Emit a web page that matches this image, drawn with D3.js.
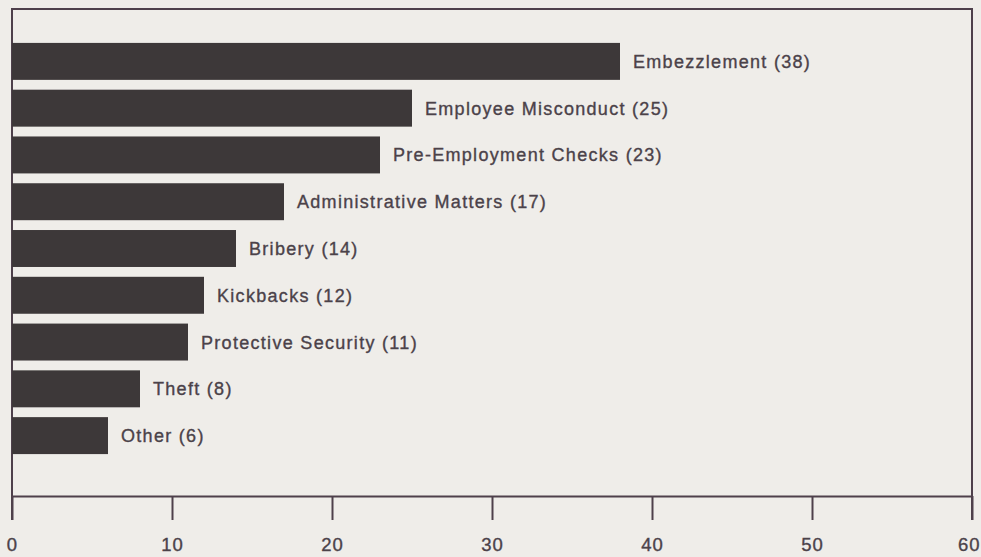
<!DOCTYPE html>
<html>
<head>
<meta charset="utf-8">
<script src="https://cdn.jsdelivr.net/npm/d3@7"></script>
<style>
  html, body { margin: 0; padding: 0; background: #efede9; }
  svg { display: block; }
  .axis text { font-family: "Liberation Sans", Arial, Helvetica, sans-serif; font-size: 18.5px; fill: #4b4249; stroke: #4b4249; stroke-width: 0.35px; letter-spacing: 1px; }
  .lbl { font-family: "Liberation Sans", Arial, Helvetica, sans-serif; font-size: 18px; fill: #4b4249; stroke: #4b4249; stroke-width: 0.35px; letter-spacing: 1.3px; }
</style>
</head>
<body>
<svg id="chart" width="981" height="557"></svg>
<script>
const categories = ['Embezzlement', 'Employee Misconduct', 'Pre-Employment Checks', 'Administrative Matters',
  'Bribery', 'Kickbacks', 'Protective Security', 'Theft', 'Other'];
const counts = [38, 25, 23, 17, 14, 12, 11, 8, 6];
const tickValues = [0, 10, 20, 30, 40, 50, 60];

const data = categories.map((c, i) => ({ name: c, value: counts[i] }));

let svg = d3.select('#chart');
let margin = { top: 9, right: 9, bottom: 61, left: 12 };
let width = 981, height = 557;
let lineColor = '#4e404b';

let x = d3.scaleLinear()
  .domain([0, 60])
  .range([margin.left, width - margin.right]);

let y = d3.scaleBand()
  .domain(categories)
  .range([38, 459])
  .paddingInner(0.21)
  .paddingOuter(0.105);

let axisY = height - margin.bottom; // 496

// frame: top line and both sides, running down to the end of the outer ticks
svg.append('path')
  .attr('d', `M${x(0)},${axisY + 24} V${margin.top} H${x(60)} V${axisY + 24}`)
  .attr('fill', 'none')
  .attr('stroke', lineColor)
  .attr('stroke-width', 2);

// bars
svg.append('g')
  .selectAll('rect')
  .data(data)
  .enter()
  .append('rect')
  .attr('x', x(0))
  .attr('y', d => y(d.name))
  .attr('width', d => x(d.value) - x(0))
  .attr('height', y.bandwidth())
  .attr('fill', '#3d3839');

// labels
svg.append('g')
  .selectAll('text')
  .data(data)
  .enter()
  .append('text')
  .classed('lbl', true)
  .attr('x', d => x(d.value) + 13)
  .attr('y', d => y(d.name) + y.bandwidth() / 2)
  .attr('dy', '0.36em')
  .text(d => `${d.name} (${d.value})`);

// x axis
let xAxis = svg.append('g')
  .classed('axis', true)
  .attr('transform', `translate(0,${axisY})`)
  .call(d3.axisBottom(x).tickValues(tickValues).tickSize(24).tickSizeOuter(0).tickPadding(18));

xAxis.select('.domain').attr('stroke', lineColor).attr('stroke-width', 2);
xAxis.selectAll('.tick line').attr('stroke', lineColor).attr('stroke-width', 2);

// last label sits at the page edge, keep it inside
xAxis.selectAll('.tick text')
  .filter(d => d === 60)
  .attr('text-anchor', 'end')
  .attr('x', width - 1 - x(60));
</script>
</body>
</html>
